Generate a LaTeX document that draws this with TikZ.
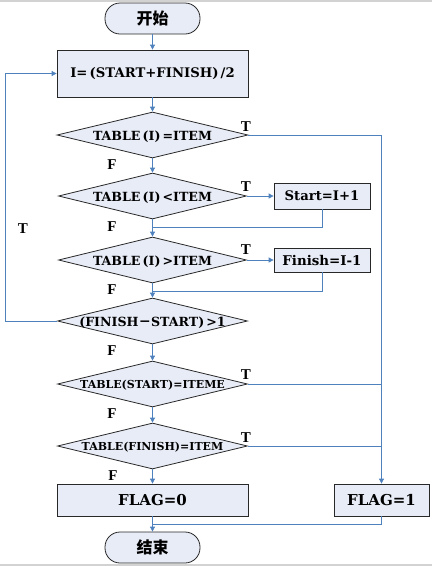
\documentclass[tikz,border=0pt]{standalone}
\usepackage{fontspec}
\setmainfont{Liberation Serif}
\newfontfamily\dvs{DejaVu Serif}
\newfontfamily\cjk{Noto Sans CJK SC}
\usetikzlibrary{shapes.geometric,arrows.meta}
\definecolor{fillc}{RGB}{232,236,246}
\definecolor{linec}{RGB}{79,129,189}
\definecolor{bordc}{RGB}{40,40,40}
\newcommand{\fs}[1]{\dvs\bfseries\fontsize{#1}{#1}\selectfont}
\tikzset{
  box/.style={draw=bordc, fill=fillc, line width=0.8pt, inner sep=0pt},
  dec/.style={diamond, draw=bordc, fill=fillc, line width=0.8pt, aspect=4, inner sep=0pt, minimum height=46pt},
  dtext/.style={font=\fs{#1}, yshift=-1.2pt},
  term/.style={draw=bordc, fill=fillc, line width=0.8pt, rounded corners=15pt, inner sep=0pt, minimum width=95pt, minimum height=31pt, font=\cjk\bfseries\fontsize{16}{16}\selectfont},
  conn/.style={linec, line width=0.8pt},
  arr/.style={conn, -{Triangle[length=5pt,width=5pt]}},
  lab/.style={font=\bfseries\fontsize{15}{15}\selectfont, inner sep=0pt}
}
\begin{document}
\begin{tikzpicture}[x=1pt,y=-1pt]
\useasboundingbox (0,0) rectangle (432,566);
\draw[gray!35, line width=1.5pt] (0,1) -- (432,1);
\draw[gray!35, line width=1.5pt] (0,565) -- (432,565);

\node[term] (start) at (152.5,18.5) {开始};
\node[box, minimum width=191pt, minimum height=47pt, font=\fs{13.2}] (calc) at (152.5,73.5) {I=\,(START+FINISH)\,/2};
\node[dec, minimum width=191pt, label={[dtext=12.6]center:TABLE\,(I)\,=ITEM}] (d1) at (152.5,135) {};
\node[dec, minimum width=188pt, label={[dtext=12.6]center:TABLE\,(I)\,<ITEM}] (d2) at (152.5,196) {};
\node[dec, minimum width=188pt, label={[dtext=12.6]center:TABLE\,(I)\,>ITEM}] (d3) at (152.5,260) {};
\node[dec, minimum width=190pt, label={[dtext=12.6]center:(FINISH{\cjk －}START)\,>1}] (d4) at (152.5,321) {};
\node[dec, minimum width=190pt, label={[dtext=11]center:TABLE(START)=ITEME}] (d5) at (152.5,384) {};
\node[dec, minimum width=190pt, label={[dtext=11]center:TABLE(FINISH)=ITEM}] (d6) at (152.5,446) {};
\node[box, minimum width=96pt, minimum height=26pt, font=\fs{13.2}] (sbox) at (322,196) {Start=I+1};
\node[box, minimum width=96pt, minimum height=24pt, font=\fs{13.4}] (fbox) at (322,260) {Finish=I-1};
\node[box, minimum width=191pt, minimum height=32pt, font=\fs{15}] (flag0) at (152.5,500) {FLAG=0};
\node[box, minimum width=95pt, minimum height=32pt, font=\fs{15}] (flag1) at (381.5,500) {FLAG=1};
\node[term] (end) at (152.5,547.5) {结束};

\coordinate (j1) at (152.5,227);
\coordinate (j2) at (152.5,291);
\coordinate (j3) at (152.5,524);
\coordinate (lp) at (5,321);

\draw[arr] (start) -- (calc);
\draw[arr] (calc) -- (d1);
\draw[arr] (d1) -- (d2);
\draw[arr] (d2) -- (d3);
\draw[arr] (d3) -- (d4);
\draw[arr] (d4) -- (d5);
\draw[arr] (d5) -- (d6);
\draw[arr] (d6) -- (flag0);
\draw[arr] (flag0) -- (end);
\draw[arr] (d1.east) -| (flag1.north);
\draw[conn] (d5.east) -- (d5.east -| flag1);
\draw[conn] (d6.east) -- (d6.east -| flag1);
\draw[arr] (d2.east) -- (sbox.west);
\draw[arr] (d3.east) -- (fbox.west);
\draw[conn] (sbox.south) |- (j1);
\draw[conn] (fbox.south) |- (j2);
\draw[conn] (flag1.south) |- (j3);
\draw[arr] (d4.west) -- (lp) |- (calc.west);

\node[lab] (t1) at (246,127) {T};
\node[lab] (t2) at (246,187) {T};
\node[lab] (t3) at (246,250) {T};
\node[lab] (t4) at (246,375) {T};
\node[lab] (t5) at (246,438) {T};
\node[lab] (t6) at (23,229) {T};
\node[lab] (f1) at (112,165) {F};
\node[lab] (f2) at (112,227) {F};
\node[lab] (f3) at (112,290) {F};
\node[lab] (f4) at (112,351) {F};
\node[lab] (f5) at (112,414) {F};
\node[lab] (f6) at (113,476) {F};
\end{tikzpicture}
\end{document}
